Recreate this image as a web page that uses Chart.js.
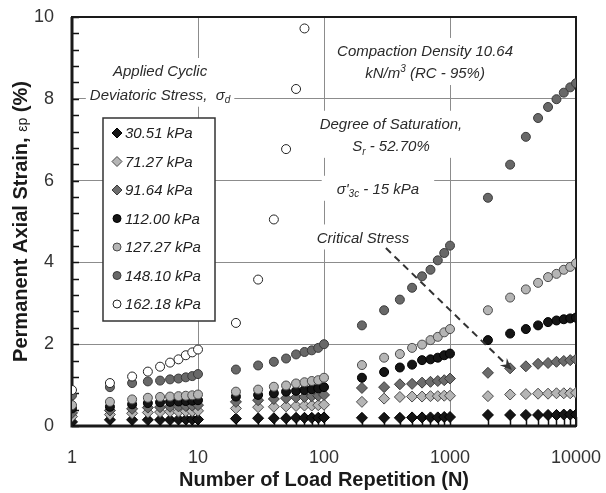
<!DOCTYPE html>
<html>
<head>
<meta charset="utf-8">
<script src="https://cdn.jsdelivr.net/npm/chart.js@4.4.1/dist/chart.umd.min.js"></script>
<style>
    html, body { margin: 0; padding: 0; background: #fff; }
    #wrap { width: 606px; height: 493px; }
</style>
</head>
<body>
<div id="wrap"><canvas id="strainChart"></canvas></div>
<script>
// Number of load repetitions (x values shared by all series)
const cycles = [1, 2, 3, 4, 5, 6, 7, 8, 9, 10,
    20, 30, 40, 50, 60, 70, 80, 90, 100,
    200, 300, 400, 500, 600, 700, 800, 900, 1000,
    2000, 3000, 4000, 5000, 6000, 7000, 8000, 9000, 10000];

// Permanent axial strain (%) for each applied deviatoric stress
const strain3051 = [0.10, 0.15, 0.15, 0.15, 0.15, 0.15, 0.16, 0.16, 0.16, 0.16,
    0.18, 0.19, 0.19, 0.19, 0.20, 0.20, 0.20, 0.20, 0.21,
    0.20, 0.20, 0.20, 0.21, 0.21, 0.21, 0.21, 0.22, 0.22,
    0.27, 0.27, 0.27, 0.27, 0.27, 0.27, 0.28, 0.28, 0.28];
const strain7127 = [0.23, 0.28, 0.31, 0.33, 0.34, 0.35, 0.35, 0.36, 0.36, 0.37,
    0.43, 0.46, 0.47, 0.48, 0.49, 0.50, 0.50, 0.51, 0.52,
    0.59, 0.67, 0.71, 0.72, 0.72, 0.73, 0.73, 0.74, 0.74,
    0.73, 0.77, 0.78, 0.79, 0.79, 0.80, 0.80, 0.80, 0.81];
const strain9164 = [0.32, 0.38, 0.42, 0.45, 0.46, 0.47, 0.48, 0.49, 0.50, 0.51,
    0.59, 0.63, 0.66, 0.68, 0.70, 0.71, 0.73, 0.74, 0.76,
    0.93, 0.95, 1.02, 1.03, 1.06, 1.08, 1.10, 1.12, 1.16,
    1.30, 1.41, 1.46, 1.52, 1.54, 1.57, 1.59, 1.61, 1.63];
const strain11200 = [0.43, 0.47, 0.53, 0.56, 0.58, 0.59, 0.60, 0.61, 0.62, 0.63,
    0.72, 0.76, 0.80, 0.84, 0.86, 0.88, 0.90, 0.92, 0.95,
    1.18, 1.32, 1.43, 1.50, 1.61, 1.63, 1.67, 1.73, 1.77,
    2.10, 2.26, 2.37, 2.46, 2.54, 2.58, 2.61, 2.63, 2.65];
const strain12727 = [0.51, 0.59, 0.65, 0.69, 0.71, 0.72, 0.73, 0.74, 0.75, 0.77,
    0.84, 0.89, 0.96, 0.99, 1.04, 1.07, 1.10, 1.12, 1.18,
    1.49, 1.67, 1.76, 1.91, 1.99, 2.10, 2.18, 2.29, 2.37,
    2.83, 3.14, 3.34, 3.50, 3.64, 3.72, 3.82, 3.89, 3.98];
const strain14810 = [0.75, 0.95, 1.05, 1.09, 1.11, 1.14, 1.16, 1.19, 1.22, 1.27,
    1.38, 1.48, 1.57, 1.65, 1.75, 1.81, 1.85, 1.91, 2.00,
    2.46, 2.83, 3.09, 3.38, 3.66, 3.82, 4.05, 4.23, 4.41,
    5.58, 6.39, 7.07, 7.53, 7.80, 7.99, 8.15, 8.28, 8.38];
const strain16218 = [0.88, 1.05, 1.21, 1.33, 1.45, 1.55, 1.63, 1.73, 1.80, 1.87,
    2.52, 3.58, 5.05, 6.77, 8.24, 9.72];

const stressLabels = ['30.51 kPa', '71.27 kPa', '91.64 kPa', '112.00 kPa', '127.27 kPa', '148.10 kPa', '162.18 kPa'];

// axis ticks
const yTicks = [0, 2, 4, 6, 8, 10];
const xMajorTicks = [1, 10, 100, 1000, 10000];

const FONT = "'Liberation Sans', Arial, sans-serif";

// text notes on the plot (positions in data units)
const notes = [
    { n: 5, y: [8.68, 8.10], pad: 4,
      lines: [[['Applied Cyclic', 'n']], [['Deviatoric Stress,  σ', 'n'], ['d', 'sub']]] },
    { n: 634, y: [9.17, 8.63], pad: 5,
      lines: [[['Compaction Density 10.64', 'n']], [['kN/m', 'n'], ['3', 'sup'], [' (RC - 95%)', 'n']]] },
    { n: 340, y: [7.39, 6.85], pad: 5,
      lines: [[['Degree of Saturation,', 'n']], [['S', 'n'], ['r', 'sub'], [' - 52.70%', 'n']]] },
    { n: 268, y: [5.80], pad: 15,
      lines: [[["σ'", 'n'], ['3c', 'sub'], [' - 15 kPa', 'n']]] },
    { n: 204, y: [4.61], pad: 5,
      lines: [[['Critical Stress', 'n']]] }
];
const arrowFrom = [310, 4.35];
const arrowTo = [3100, 1.37];

// marker styles per series
const looks = [
    { shape: 'rectRot', fill: '#151515', edge: '#000000', r: 5.5 },
    { shape: 'rectRot', fill: '#b5b5b5', edge: '#4a4a4a', r: 5.5 },
    { shape: 'rectRot', fill: '#6c6c6c', edge: '#3a3a3a', r: 5.5 },
    { shape: 'circle', fill: '#151515', edge: '#000000', r: 4.5 },
    { shape: 'circle', fill: '#b5b5b5', edge: '#4a4a4a', r: 4.5 },
    { shape: 'circle', fill: '#686868', edge: '#3a3a3a', r: 4.5 },
    { shape: 'circle', fill: '#ffffff', edge: '#222222', r: 4.5 }
];

const allStrains = [strain3051, strain7127, strain9164, strain11200, strain12727, strain14810, strain16218];

const datasets = allStrains.map((vals, i) => ({
    label: stressLabels[i],
    data: vals.map((v, k) => ({ x: cycles[k], y: v })),
    showLine: false,
    pointStyle: looks[i].shape,
    pointRadius: looks[i].r,
    pointBackgroundColor: looks[i].fill,
    pointBorderColor: looks[i].edge,
    pointBorderWidth: 1,
    order: allStrains.length - i   // later series drawn on top
}));

function isDecade(v) {
    const l = Math.log10(v);
    return Math.abs(l - Math.round(l)) < 1e-9;
}

function segFont(kind, size) {
    const s = kind === 'n' ? size : Math.round(size * 0.65);
    return `italic ${s}px ${FONT}`;
}

function richWidth(ctx, segs, size) {
    let w = 0;
    segs.forEach(([t, k]) => { ctx.font = segFont(k, size); w += ctx.measureText(t).width; });
    return w;
}

function drawRich(ctx, segs, cx, cy, size) {
    const w = richWidth(ctx, segs, size);
    let x = cx - w / 2;
    const base = cy + size * 0.36;
    ctx.textAlign = 'left';
    ctx.textBaseline = 'alphabetic';
    segs.forEach(([t, k]) => {
        ctx.font = segFont(k, size);
        const dy = k === 'sub' ? size * 0.22 : (k === 'sup' ? -size * 0.42 : 0);
        ctx.fillText(t, x, base + dy);
        x += ctx.measureText(t).width;
    });
}

// grid decorations: minor ticks, frame, notes
const decorPlugin = {
    id: 'decor',
    beforeDatasetsDraw(chart) {
        const { ctx, chartArea: a, scales } = chart;
        const xs = scales.x, ys = scales.y;
        ctx.save();

        // notes with white backing
        const size = 15;
        notes.forEach(note => {
            const cx = xs.getPixelForValue(note.n);
            const py = note.y.map(v => ys.getPixelForValue(v));
            const w = Math.max(...note.lines.map(l => richWidth(ctx, l, size)));
            ctx.fillStyle = '#ffffff';
            ctx.fillRect(cx - w / 2 - note.pad, py[0] - 13, w + 2 * note.pad, py[py.length - 1] - py[0] + 25);
            ctx.fillStyle = '#2b2b2b';
            note.lines.forEach((l, i) => drawRich(ctx, l, cx, py[i], size));
        });

        // inward ticks on the left axis
        ctx.strokeStyle = '#111';
        ctx.lineWidth = 1.5;
        ctx.beginPath();
        for (let v = 0; v <= 10.001; v += 0.4) {
            const y = Math.round(ys.getPixelForValue(v)) + 0.5;
            ctx.moveTo(a.left, y);
            ctx.lineTo(a.left + 7, y);
        }
        // inward ticks on the bottom axis
        for (let d = 1; d < 10000; d *= 10) {
            for (let m = 1; m <= 10; m++) {
                const x = Math.round(xs.getPixelForValue(d * m)) + 0.5;
                ctx.moveTo(x, a.bottom);
                ctx.lineTo(x, a.bottom - (m === 10 || m === 1 ? 9 : 7));
            }
        }
        ctx.stroke();

        // plot frame
        ctx.lineWidth = 2;
        ctx.strokeStyle = '#1a1a1a';
        ctx.strokeRect(a.left, a.top, a.right - a.left, a.bottom - a.top);
        ctx.lineWidth = 3;
        ctx.beginPath();
        ctx.moveTo(a.left, a.top);
        ctx.lineTo(a.left, a.bottom);
        ctx.lineTo(a.right, a.bottom);
        ctx.stroke();

        ctx.restore();
    },
    afterDatasetsDraw(chart) {
        const { ctx, chartArea: a, scales } = chart;
        const xs = scales.x, ys = scales.y;
        ctx.save();

        // dashed arrow to the critical stress
        const x0 = xs.getPixelForValue(arrowFrom[0]), y0 = ys.getPixelForValue(arrowFrom[1]);
        const x1 = xs.getPixelForValue(arrowTo[0]), y1 = ys.getPixelForValue(arrowTo[1]);
        const ang = Math.atan2(y1 - y0, x1 - x0);
        ctx.strokeStyle = '#333';
        ctx.lineWidth = 2;
        ctx.setLineDash([7, 5]);
        ctx.beginPath();
        ctx.moveTo(x0, y0);
        ctx.lineTo(x1 - 8 * Math.cos(ang), y1 - 8 * Math.sin(ang));
        ctx.stroke();
        ctx.setLineDash([]);
        ctx.fillStyle = '#333';
        ctx.beginPath();
        ctx.moveTo(x1, y1);
        ctx.lineTo(x1 - 13 * Math.cos(ang - 0.4), y1 - 13 * Math.sin(ang - 0.4));
        ctx.lineTo(x1 - 8 * Math.cos(ang), y1 - 8 * Math.sin(ang));
        ctx.lineTo(x1 - 13 * Math.cos(ang + 0.4), y1 - 13 * Math.sin(ang + 0.4));
        ctx.closePath();
        ctx.fill();

        // legend box
        const lx = a.left + 31, ly = a.top + 101, lw = 112, lh = 203;
        ctx.fillStyle = '#fff';
        ctx.fillRect(lx, ly, lw, lh);
        ctx.strokeStyle = '#333';
        ctx.lineWidth = 1.5;
        ctx.strokeRect(lx, ly, lw, lh);
        chart.data.datasets.forEach((ds, i) => {
            const cy = ly + 15 + i * 28.5;
            ctx.fillStyle = ds.pointBackgroundColor;
            ctx.strokeStyle = ds.pointBorderColor;
            ctx.lineWidth = 1;
            Chart.helpers.drawPoint(ctx, {
                pointStyle: ds.pointStyle, radius: ds.pointRadius - 0.5, rotation: 0, borderWidth: 1
            }, lx + 14, cy);
            ctx.fillStyle = '#222';
            ctx.font = `italic 15px ${FONT}`;
            ctx.textAlign = 'left';
            ctx.textBaseline = 'middle';
            ctx.fillText(ds.label, lx + 22, cy + 1);
        });

        // y axis title with mixed fonts
        const parts = [['Permanent Axial Strain, ', `bold 20px ${FONT}`], ['εp', `14px ${FONT}`], [' (%)', `bold 20px ${FONT}`]];
        let total = 0;
        parts.forEach(([t, f]) => { ctx.font = f; total += ctx.measureText(t).width; });
        ctx.translate(20, (a.top + a.bottom) / 2);
        ctx.rotate(-Math.PI / 2);
        ctx.fillStyle = '#1a1a1a';
        ctx.textBaseline = 'alphabetic';
        let px = -total / 2;
        parts.forEach(([t, f]) => {
            ctx.font = f;
            ctx.fillText(t, px, 7);
            px += ctx.measureText(t).width;
        });
        ctx.restore();
    }
};

const gridGrey = '#8c8c8c';

new Chart(document.getElementById('strainChart'), {
    type: 'scatter',
    data: { datasets: datasets },
    options: {
        responsive: true,
        maintainAspectRatio: false,
        animation: false,
        layout: { padding: { top: 17, right: 30, left: 0, bottom: 0 } },
        plugins: {
            legend: { display: false },
            tooltip: { enabled: false }
        },
        scales: {
            x: {
                type: 'logarithmic',
                min: 1,
                max: 10000,
                afterFit: s => { s.height = 67; s.paddingLeft = 0; s.paddingRight = 0; },
                afterBuildTicks: s => { s.ticks = xMajorTicks.map(v => ({ value: v })); },
                border: { display: false },
                grid: {
                    drawTicks: false,
                    color: c => (c.tick && c.tick.value > 1 && c.tick.value < 10000) ? gridGrey : 'rgba(0,0,0,0)',
                    lineWidth: 1
                },
                ticks: {
                    autoSkip: false,
                    maxRotation: 0,
                    padding: 21,
                    color: '#333',
                    font: { size: 18, family: FONT },
                    callback: v => isDecade(v) ? String(v) : ''
                },
                title: {
                    display: true,
                    text: 'Number of Load Repetition (N)',
                    color: '#1a1a1a',
                    font: { size: 20, weight: 'bold', family: FONT },
                    padding: { top: 0, bottom: 1 }
                }
            },
            y: {
                min: 0,
                max: 10,
                afterFit: s => { s.width = 72; s.paddingTop = 0; s.paddingBottom = 0; },
                afterBuildTicks: s => { s.ticks = yTicks.map(v => ({ value: v })); },
                border: { display: false },
                grid: {
                    drawTicks: false,
                    color: c => (c.tick && c.tick.value > 0 && c.tick.value < 10) ? gridGrey : 'rgba(0,0,0,0)',
                    lineWidth: 1
                },
                ticks: {
                    padding: 18,
                    color: '#333',
                    font: { size: 18, family: FONT }
                }
            }
        }
    },
    plugins: [decorPlugin]
});
</script>
</body>
</html>
